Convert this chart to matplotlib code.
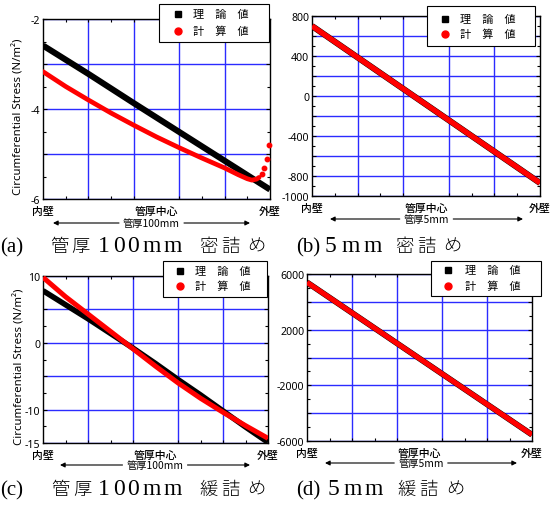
import matplotlib
matplotlib.use('Agg')
import matplotlib.pyplot as plt
from matplotlib.ticker import MultipleLocator, FuncFormatter, FixedLocator
from matplotlib.lines import Line2D
from matplotlib.patches import FancyArrowPatch, Rectangle

plt.rcParams['axes.unicode_minus'] = False

# ---------------- data ----------------
pos_labels = ['内壁', '管厚中心', '外壁']
pos_ticks = [0, 2.5, 5]
theory_label = '理　論　値'
calc_label = '計　算　値'
ylabel_text = 'Circumferential Stress (N/m²)'

# (a) 管厚100mm 密詰め
a_x_theory = [0, 1, 2, 3, 4, 5]
a_y_theory = [-2.59, -3.22, -3.87, -4.51, -5.15, -5.79]
a_x_calc = [0, 0.5, 1, 1.5, 2, 2.5, 3, 3.5, 4, 4.3, 4.5, 4.6, 4.7, 4.76]
a_y_calc = [-3.17, -3.50, -3.80, -4.09, -4.36, -4.62, -4.86, -5.09, -5.31,
            -5.46, -5.55, -5.58, -5.56, -5.52]
a_x_tail = [4.82, 4.875, 4.93, 4.985]
a_y_tail = [-5.44, -5.30, -5.11, -4.81]
a_ylabels = [-2, -4, -6]

# (b) 5mm 密詰め
b_x = [0, 1, 2, 3, 4, 5]
b_y_theory = [700, 386, 72, -242, -556, -870]
b_y_calc = [700, 386, 72, -242, -556, -870]
b_ylabels = [800, 400, 0, -400, -800, -1000]

# (c) 管厚100mm 緩詰め
c_x = [0, 0.5, 1, 1.5, 2, 2.5, 3, 3.5, 4, 4.5, 5]
c_y_theory = [7.8, 5.7, 3.6, 1.4, -0.8, -3.1, -5.5, -7.8, -10.2, -12.6, -14.9]
c_y_calc = [9.8, 6.9, 4.3, 1.7, -0.9, -3.5, -6.0, -8.3, -10.4, -12.4, -14.3]
c_ylabels = [10, 0, -10, -15]

# (d) 5mm 緩詰め
d_x = [0, 1, 2, 3, 4, 5]
d_y_theory = [5400, 3210, 1020, -1170, -3360, -5550]
d_y_calc = [5400, 3210, 1020, -1170, -3360, -5550]
d_ylabels = [6000, 2000, -2000, -6000]

# ---------------- layout ----------------
W, H = 555, 506
fig = plt.figure(figsize=(W / 100, H / 100), dpi=100)
renderer = fig.canvas.get_renderer()

CJK = ['Noto Sans CJK JP', 'DejaVu Sans']
SANS = ['Noto Sans', 'DejaVu Sans']
SERIF = ['Liberation Serif', 'DejaVu Serif']
GRID = '#2b2bff'
CAP_LAT = 17
CAP_PAREN = 15
CAP_CJK = 13.2


def fx(x):
    return x / W


def fy(y):
    return 1 - y / H


def text_width(s, **kw):
    t = fig.text(0, 0, s, **kw)
    w = t.get_window_extent(renderer).width
    t.remove()
    return w


def make_axes(l, t, r, b, ylim, ystep, yminor, ylabels):
    ax = fig.add_axes([fx(l), fy(b), fx(r - l), (b - t) / H])
    ax.set_xlim(0, 5)
    ax.set_ylim(*ylim)
    for gx in [1, 2, 3, 4]:
        ax.axvline(gx, color=GRID, lw=1.0, zorder=0)
    ax.yaxis.set_major_locator(MultipleLocator(ystep))
    ax.yaxis.set_minor_locator(MultipleLocator(yminor))
    ax.grid(True, axis='y', which='major', color=GRID, lw=1.0, zorder=0)
    ax.set_axisbelow(True)
    ax.yaxis.set_major_formatter(FuncFormatter(
        lambda v, p: (f'{v:g}' if any(abs(v - q) < 1e-6 for q in ylabels) else '')))
    ax.xaxis.set_major_locator(FixedLocator(pos_ticks))
    ax.xaxis.set_minor_locator(MultipleLocator(0.5))
    ax.set_xticklabels(pos_labels, fontfamily=CJK, fontsize=7.8, fontweight='medium')
    ax.tick_params(axis='x', which='major', length=0, pad=5)
    ax.tick_params(axis='y', which='major', direction='in', length=3, width=0.8,
                   labelsize=7.6, pad=2, right=True)
    ax.tick_params(which='minor', direction='in', length=2.5, width=0.8,
                   top=True, right=True)
    for lab in ax.get_yticklabels():
        lab.set_fontfamily(SANS)
    for s in ax.spines.values():
        s.set_linewidth(1.0)
        s.set_color('black')
    return ax


def legend(box, r1, r2, mx, tx):
    x0, y0, x1, y1 = box
    fig.add_artist(Rectangle((fx(x0), fy(y1)), fx(x1 - x0), (y1 - y0) / H,
                             transform=fig.transFigure, fc='white', ec='black',
                             lw=0.8, zorder=20))
    fig.add_artist(Line2D([fx(x0 + mx)], [fy(r1)], transform=fig.transFigure,
                          ls='none', marker='s', color='black', ms=4, zorder=21))
    fig.add_artist(Line2D([fx(x0 + mx)], [fy(r2)], transform=fig.transFigure,
                          ls='none', marker='o', color='red', ms=5, zorder=21))
    for lab, yy in [(theory_label, r1), (calc_label, r2)]:
        fig.text(fx(x0 + tx), fy(yy), lab, ha='left', va='center', fontsize=8,
                 fontfamily=CJK, zorder=22)


def arrow_label(text, x0, x1, y):
    kw = dict(fontsize=7.4, fontfamily=CJK)
    cx = (x0 + x1) / 2
    w = text_width(text, **kw)
    gap = 4
    left_end = cx - w / 2 - gap
    right_start = cx + w / 2 + gap
    fig.add_artist(FancyArrowPatch((fx(left_end), fy(y)), (fx(x0), fy(y)),
                                   transform=fig.transFigure, arrowstyle='-|>',
                                   mutation_scale=7, lw=0.8, color='black',
                                   shrinkA=0, shrinkB=0))
    fig.add_artist(FancyArrowPatch((fx(right_start), fy(y)), (fx(x1), fy(y)),
                                   transform=fig.transFigure, arrowstyle='-|>',
                                   mutation_scale=7, lw=0.8, color='black',
                                   shrinkA=0, shrinkB=0))
    fig.text(fx(cx), fy(y), text, ha='center', va='center', **kw)


def caption(segments, y):
    for txt, x0, x1, kind in segments:
        if kind == 'cjk':
            fig.text(fx((x0 + x1) / 2), fy(y), txt, ha='center', va='baseline',
                     fontsize=CAP_CJK, fontfamily=CJK, fontweight='light')
        elif kind == 'one':
            fig.text(fx(x0), fy(y), txt, ha='left', va='baseline',
                     fontsize=CAP_PAREN, fontfamily=SERIF)
        else:
            widths = [text_width(ch, fontsize=CAP_LAT, fontfamily=SERIF) for ch in txt]
            gap = (x1 - x0 - sum(widths)) / max(len(txt) - 1, 1)
            xpos = x0
            for ch, w in zip(txt, widths):
                fig.text(fx(xpos), fy(y), ch, ha='left', va='baseline',
                         fontsize=CAP_LAT, fontfamily=SERIF)
                xpos += w + gap


def ylabel(x, y):
    fig.text(fx(x), fy(y), ylabel_text, rotation=90, ha='center', va='center',
             fontsize=8.2, fontfamily=SANS)


# ---- (a)
ax = make_axes(43, 20, 270, 200, (-6, -2), 1, 0.5, a_ylabels)
ax.plot(a_x_theory, a_y_theory, color='black', lw=4.4, solid_capstyle='butt', zorder=3)
ax.plot(a_x_calc, a_y_calc, color='red', lw=3.4, solid_capstyle='round', zorder=4)
ax.plot(a_x_tail, a_y_tail, ls='none', marker='o', color='red', ms=3.2, zorder=4,
        clip_on=False)
legend((159, 5, 269, 43), 15, 32, 19, 34)
ylabel(19, 117)
arrow_label('管厚100mm', 53, 250, 224)
caption([('(a)', 0, 22, 'one'), ('管', 52, 67, 'cjk'), ('厚', 73, 88, 'cjk'),
         ('100mm', 98, 182, 'lat'), ('密', 200, 217, 'cjk'), ('詰', 222, 238, 'cjk'),
         ('め', 245, 268, 'cjk')], 252)

# ---- (b)
ax = make_axes(312, 17, 540, 197, (-1000, 800), 200, 100, b_ylabels)
ax.plot(b_x, b_y_theory, color='black', lw=4.4, solid_capstyle='butt', zorder=3)
ax.plot(b_x, b_y_calc, color='red', lw=3.9, solid_capstyle='butt', zorder=4)
legend((427, 7, 535, 47), 20, 35, 18, 33)
arrow_label('管厚5mm', 330, 523, 220)
caption([('(b)', 296, 317, 'one'), ('5mm', 325, 382, 'lat'), ('密', 395, 413, 'cjk'),
         ('詰', 417, 435, 'cjk'), ('め', 442, 462, 'cjk')], 252)

# ---- (c)
ax = make_axes(43, 277, 268, 444, (-15, 10), 5, 2.5, c_ylabels)
ax.plot(c_x, c_y_theory, color='black', lw=4.0, solid_capstyle='butt', zorder=3)
ax.plot(c_x, c_y_calc, color='red', lw=3.6, solid_capstyle='butt', zorder=4)
legend((163, 262, 267, 298), 272, 287, 17, 32)
ylabel(20, 367)
arrow_label('管厚100mm', 60, 250, 466)
caption([('(c)', 0, 18, 'one'), ('管', 53, 68, 'cjk'), ('厚', 75, 90, 'cjk'),
         ('100mm', 98, 182, 'lat'), ('緩', 200, 217, 'cjk'), ('詰', 222, 238, 'cjk'),
         ('め', 245, 267, 'cjk')], 495)

# ---- (d)
ax = make_axes(307, 275, 532, 442, (-6000, 6000), 2000, 1000, d_ylabels)
ax.plot(d_x, d_y_theory, color='black', lw=4.2, solid_capstyle='butt', zorder=3)
ax.plot(d_x, d_y_calc, color='red', lw=3.7, solid_capstyle='butt', zorder=4)
legend((431, 262, 541, 297), 271, 287, 17, 34)
arrow_label('管厚5mm', 325, 517, 464)
caption([('(d)', 296, 317, 'one'), ('5mm', 328, 383, 'lat'), ('緩', 398, 415, 'cjk'),
         ('詰', 420, 437, 'cjk'), ('め', 443, 468, 'cjk')], 495)

fig.savefig('out.png', dpi=100)
